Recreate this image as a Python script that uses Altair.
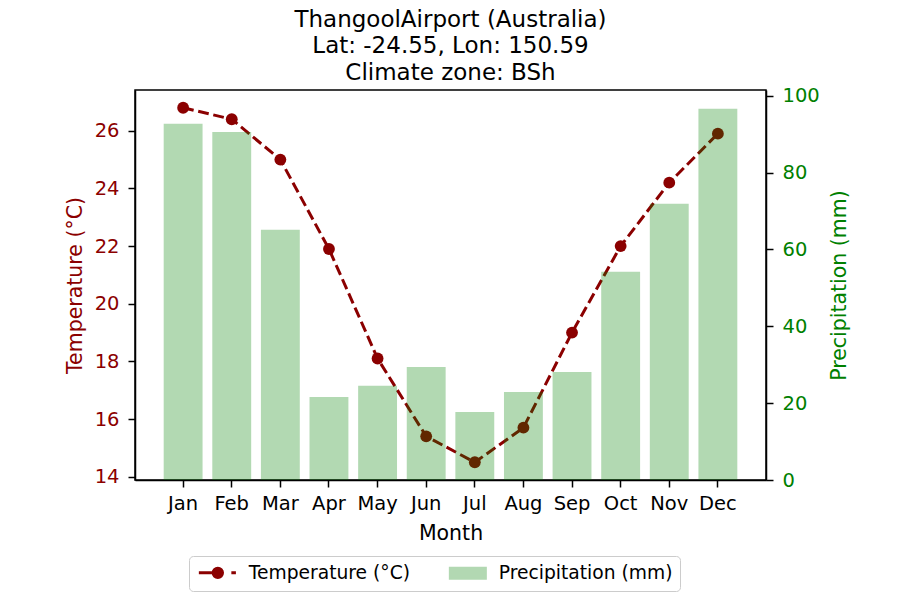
import altair as alt
import pandas as pd

months = ["Jan", "Feb", "Mar", "Apr", "May", "Jun", "Jul", "Aug", "Sep", "Oct", "Nov", "Dec"]
temperature = [26.8, 26.4, 25.0, 21.9, 18.1, 15.4, 14.5, 15.7, 19.0, 22.0, 24.2, 25.9]
precipitation = [92.7, 90.6, 65.1, 21.6, 24.5, 29.4, 17.7, 22.9, 28.1, 54.2, 71.9, 96.6]
temp_ticks = [14, 16, 18, 20, 22, 24, 26]
precip_ticks = [0, 20, 40, 60, 80, 100]
title_lines = ["ThangoolAirport (Australia)", "Lat: -24.55, Lon: 150.59", "Climate zone: BSh"]
T_LABEL = "Temperature (°C)"
P_LABEL = "Precipitation (mm)"

DARKRED = "#8b0000"
GREEN = "#008000"
FONT = "DejaVu Sans"
TICK_FS = 19.5
TITLE_FS = 20.5

df = pd.DataFrame({"month": months, "temp": temperature, "precip": precipitation,
                   "series": [T_LABEL] * len(months)})

xscale = alt.Scale(type="band", domain=months, paddingInner=0.2, paddingOuter=0.59)
xaxis = alt.Axis(title="Month", labelAngle=0, labelFontSize=TICK_FS, titleFontSize=TITLE_FS,
                 labelPadding=7, titlePadding=11, tickSize=7, labelColor="black",
                 titleColor="black", titleFontWeight="normal")
x_enc = alt.X("month:N", sort=months, scale=xscale, axis=xaxis)
y_temp = alt.Y("temp:Q", scale=alt.Scale(domain=[13.885, 27.415], nice=False, zero=False),
               axis=alt.Axis(orient="left", values=temp_ticks, title=T_LABEL, grid=False,
                             labelColor=DARKRED, titleColor=DARKRED, labelFontSize=TICK_FS,
                             titleFontSize=TITLE_FS, tickSize=7, labelPadding=9,
                             titlePadding=9, titleFontWeight="normal"))

LINE_PATH = "M-1,0H1.9M4,0H4.7M1.2,0A0.72,0.72,0,1,1,2.64,0A0.72,0.72,0,1,1,1.2,0Z"
RECT_PATH = "M-1,-1H4.846V1H-1Z"
is_t = f"datum.value === '{T_LABEL}'"

legend = alt.Legend(
    title=None, orient="none", legendX=54, legendY=466, direction="horizontal",
    padding=7, strokeColor="#cccccc", fillColor="white", cornerRadius=4,
    labelFontSize=18.7, labelFont=FONT, labelColor="black", labelLimit=400,
    symbolSize=169, labelOffset=34, columnPadding=36, symbolOpacity=1,
    symbolType=alt.ExprRef(expr=f"{is_t} ? '{LINE_PATH}' : '{RECT_PATH}'"),
    symbolStrokeColor=alt.ExprRef(expr=f"{is_t} ? '{DARKRED}' : 'transparent'"),
    symbolStrokeWidth=alt.ExprRef(expr=f"{is_t} ? 3 : 0"),
)

line = alt.Chart(df).mark_line(
    color=DARKRED, strokeWidth=3, strokeDash=[10.8, 4.7],
    point=alt.OverlayMarkDef(filled=True, size=140, color=DARKRED, opacity=1),
).encode(x=x_enc, y=y_temp)

legend_pts = alt.Chart(df).mark_point(filled=True, size=0).encode(
    x=x_enc, y=y_temp,
    color=alt.Color("series:N", scale=alt.Scale(domain=[T_LABEL, P_LABEL],
                                                range=[DARKRED, "#b2d8b2"]),
                    legend=legend),
)

bars = alt.Chart(df).mark_bar(color=GREEN, opacity=0.3).encode(
    x=x_enc,
    y=alt.Y("precip:Q", scale=alt.Scale(domain=[0, 101.5], nice=False),
            axis=alt.Axis(orient="right", values=precip_ticks, title=P_LABEL, grid=False,
                          labelColor=GREEN, titleColor=GREEN, labelFontSize=TICK_FS,
                          titleFontSize=TITLE_FS, tickSize=7, labelPadding=9,
                          titlePadding=30, titleAngle=270, titleFontWeight="normal")),
)

chart = alt.layer(alt.layer(line, legend_pts), bars).resolve_scale(y="independent").properties(
    width=631, height=390,
    title=alt.TitleParams(text=title_lines, fontSize=23, font=FONT, fontWeight="normal",
                          color="black", anchor="middle", baseline="bottom",
                          lineHeight=26.5, offset=-22, frame="group"),
    autosize=alt.AutoSizeParams(type="none"),
    padding={"left": 127, "top": 82, "right": 126, "bottom": 112},
).configure(font=FONT).configure_view(
    stroke="black", strokeWidth=1.5
).configure_axis(
    domainColor="black", domainWidth=1.5, tickColor="black", tickWidth=1.5,
    labelFont=FONT, titleFont=FONT,
)

chart.save("out.html", embed_options={"renderer": "svg", "actions": False})
